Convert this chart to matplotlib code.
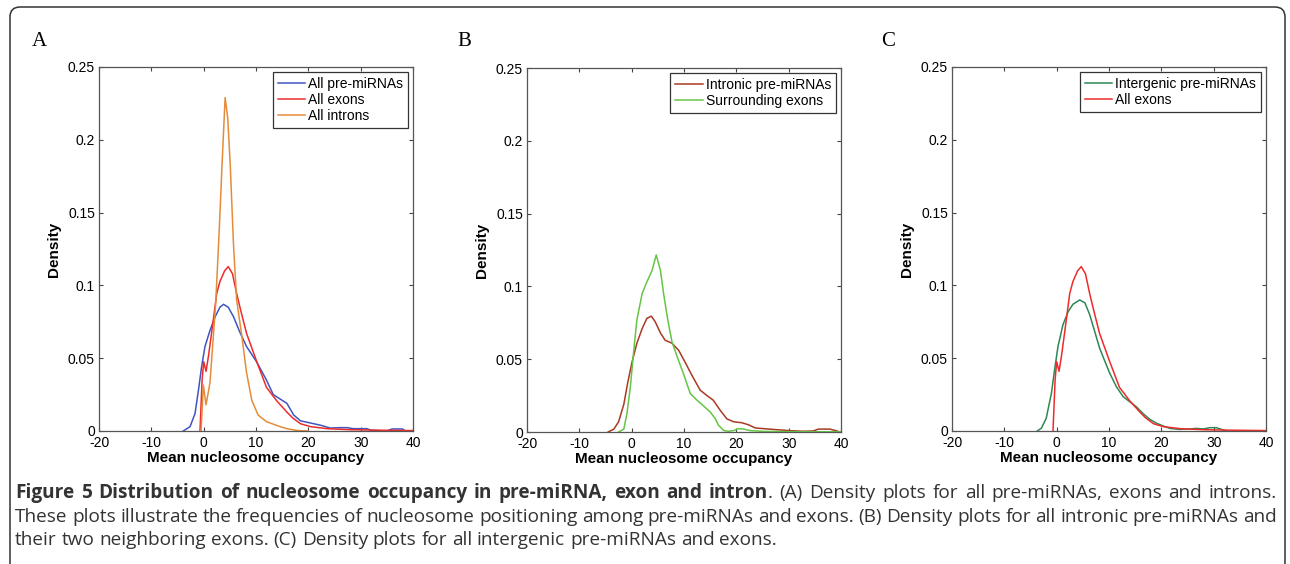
import matplotlib
matplotlib.use('Agg')
import matplotlib.pyplot as plt
from matplotlib.patches import FancyBboxPatch
from matplotlib.transforms import IdentityTransform

W, H = 1290, 564

# Panel A: all pre-miRNAs / exons / introns
PRE_X = [-3.9, -2.6, -1.65, -1, -0.4, 0.25, 1.2, 2.2, 3.1, 3.8, 4.7, 5.7, 6.9, 8.2,
         10.1, 12, 13.3, 14.6, 15.9, 17.2, 18.5, 20.4, 22.3, 24.2, 26, 27.4, 28.6,
         31.2, 32, 35, 36, 38, 38.5]
PRE_Y = [0, 0.003, 0.012, 0.028, 0.044, 0.058, 0.069, 0.0785, 0.085, 0.087, 0.085,
         0.0785, 0.068, 0.058, 0.0476, 0.035, 0.025, 0.022, 0.019, 0.011, 0.007,
         0.0055, 0.004, 0.002, 0.0023, 0.0023, 0.0016, 0.0016, 0.0005, 0, 0.0014,
         0.0014, 0]

EXON_X = [-0.7, -0.3, 0, 0.45, 0.9, 1.5, 2.5, 3.1, 4, 4.7, 5.5, 6.3, 7, 8.2, 10.1,
          12, 13.9, 15.9, 17, 18.5, 20.4, 23.6, 28, 34.4, 40]
EXON_Y = [0, 0.035, 0.0476, 0.041, 0.051, 0.067, 0.0945, 0.1026, 0.110, 0.1129, 0.108,
          0.0945, 0.084, 0.067, 0.048, 0.030, 0.021, 0.013, 0.009, 0.005, 0.003,
          0.0016, 0.0009, 0.0005, 0.0003]

INTRON_X = [-0.5, -0.06, 0.45, 1.2, 1.85, 2.3, 2.6, 3, 3.5, 4.1, 4.6, 5.1, 5.7, 6.3,
            7.3, 8.2, 9.2, 10.4, 12, 14.6, 16, 18, 20]
INTRON_Y = [0, 0.0316, 0.018, 0.033, 0.065, 0.088, 0.110, 0.140, 0.182, 0.229, 0.215,
            0.181, 0.128, 0.090, 0.065, 0.040, 0.021, 0.011, 0.0064, 0.003, 0.0015,
            0.0003, 0]

# Panel B: intronic pre-miRNAs / surrounding exons
INTRONIC_X = [-4.5, -3.4, -2.5, -1.5, -0.8, 0, 1, 2, 2.9, 3.75, 4.5, 5.5, 6.4, 7.7,
              9, 10.2, 11.5, 13.1, 14.4, 15.6, 16.9, 18.2, 19.5, 21, 22.3, 23.6,
              25.2, 27.7, 30.3, 32.8, 34.7, 35.7, 37.9, 39.2, 39.8]
INTRONIC_Y = [0, 0.002, 0.007, 0.019, 0.033, 0.047, 0.061, 0.071, 0.078, 0.0796,
              0.0757, 0.068, 0.063, 0.061, 0.056, 0.048, 0.039, 0.0287, 0.025,
              0.0218, 0.015, 0.009, 0.007, 0.0064, 0.005, 0.0028, 0.0023, 0.0016,
              0.0009, 0.0005, 0.0007, 0.002, 0.002, 0.0007, 0]

SURR_X = [-2.5, -1.5, -0.9, -0.25, 0.4, 1, 2, 2.9, 3.9, 4.7, 5.5, 6.1, 6.9, 7.7,
          8.7, 9.9, 11.2, 12.5, 13.7, 15, 16, 16.6, 17.6, 18.5, 19.5, 20.4, 21.4,
          22.6, 25.2, 31.6, 40]
SURR_Y = [0, 0.002, 0.0126, 0.031, 0.056, 0.077, 0.095, 0.103, 0.111, 0.1216, 0.111,
          0.095, 0.077, 0.062, 0.0516, 0.040, 0.0264, 0.0218, 0.018, 0.0138, 0.009,
          0.0046, 0.001, 0.0005, 0.001, 0.0023, 0.002, 0.001, 0.0004, 0.0002, 0.0001]

# Panel C: intergenic pre-miRNAs (exons reused from panel A)
INTERG_X = [-3.7, -2.9, -2, -1, -0.4, 0.25, 1.2, 2.2, 3.1, 4.4, 5.4, 6.3, 7.3, 8.2,
            9.2, 10.1, 11.4, 12.7, 14, 15.2, 16.5, 17.8, 19.1, 20.4, 21.6, 23.5,
            25.4, 26.7, 28, 29.3, 30.5, 31.5, 32.5]
INTERG_Y = [0, 0.002, 0.0087, 0.026, 0.042, 0.058, 0.073, 0.082, 0.087, 0.090, 0.088,
            0.080, 0.068, 0.057, 0.048, 0.040, 0.0305, 0.0236, 0.020, 0.0167, 0.012,
            0.008, 0.0053, 0.0034, 0.0018, 0.0011, 0.0014, 0.0018, 0.0014, 0.0023,
            0.0023, 0.0011, 0]

X_TICKS = [-20, -10, 0, 10, 20, 30, 40]
Y_TICKS = [0, 0.05, 0.1, 0.15, 0.2, 0.25]

BLUE = '#3F56C0'
RED = '#EE2B2B'
ORANGE = '#E58C3A'
DARKRED = '#A83A22'
GREEN = '#66C447'
DARKGREEN = '#2E8756'

CAPTION = [
    [[('Figure', 'bold')], [('5', 'bold')], [('Distribution', 'bold')], [('of', 'bold')],
     [('nucleosome', 'bold')], [('occupancy', 'bold')], [('in', 'bold')],
     [('pre-miRNA,', 'bold')], [('exon', 'bold')], [('and', 'bold')],
     [('intron', 'bold'), ('.', 'normal')]]
    + [[(w, 'normal')] for w in '(A) Density plots for all pre-miRNAs, exons and introns.'.split()],
    [[(w, 'normal')] for w in ('These plots illustrate the frequencies of nucleosome positioning '
                               'among pre-miRNAs and exons. (B) Density plots for all intronic '
                               'pre-miRNAs and').split()],
    [[(w, 'normal')] for w in ('their two neighboring exons. (C) Density plots for all '
                               'intergenic pre-miRNAs and exons.').split()],
]

plt.rcParams['font.family'] = ['Liberation Sans', 'DejaVu Sans']

fig = plt.figure(figsize=(W / 100, H / 100), dpi=100)
fig.patch.set_facecolor('white')

# rounded frame around the whole figure
frame = FancyBboxPatch((10, -20), 1275, H - 7 + 20, boxstyle='round,pad=0,rounding_size=10',
                       transform=IdentityTransform(), facecolor='none',
                       edgecolor='#333333', lw=1.1)
fig.add_artist(frame)


def px_axes(left, right, top, bottom):
    return fig.add_axes([left / W, (H - bottom) / H, (right - left) / W, (bottom - top) / H])


def style_axes(ax):
    ax.set_xlim(-20, 40)
    ax.set_ylim(0, 0.25)
    ax.set_xticks(X_TICKS)
    ax.set_yticks(Y_TICKS)
    ax.set_xticklabels([str(t) for t in X_TICKS])
    ax.set_yticklabels(['%g' % t for t in Y_TICKS])
    ax.tick_params(direction='in', top=True, right=True, length=3, width=0.8,
                   labelsize=10, color='#444444')
    ax.tick_params(axis='x', pad=3.5)
    ax.tick_params(axis='y', pad=2.9)
    for s in ax.spines.values():
        s.set_color('#555555')
        s.set_linewidth(0.9)
    ax.set_xlabel('Mean nucleosome occupancy', fontsize=11, fontweight='bold', va='center')
    ax.xaxis.set_label_coords(0.5, -27 / 364)
    ax.set_ylabel('Density', fontsize=11, fontweight='bold', va='center')
    ax.yaxis.set_label_coords(-45 / 314, 0.5)


def add_legend(ax):
    leg = ax.legend(loc='upper right', fontsize=10, handlelength=2.0, handletextpad=0.2,
                    labelspacing=0.15, borderpad=0.35, borderaxespad=0.36,
                    fancybox=False, framealpha=1)
    leg.get_frame().set_edgecolor('#333333')
    leg.get_frame().set_linewidth(0.9)


lw = 1.1

ax1 = px_axes(99, 413, 67, 431)
ax1.plot(PRE_X, PRE_Y, color=BLUE, lw=lw, label='All pre-miRNAs')
ax1.plot(EXON_X, EXON_Y, color=RED, lw=lw, label='All exons')
ax1.plot(INTRON_X, INTRON_Y, color=ORANGE, lw=lw, label='All introns')
style_axes(ax1)
add_legend(ax1)

ax2 = px_axes(527, 841, 68, 432)
ax2.plot(INTRONIC_X, INTRONIC_Y, color=DARKRED, lw=lw, label='Intronic pre-miRNAs')
ax2.plot(SURR_X, SURR_Y, color=GREEN, lw=lw, label='Surrounding exons')
style_axes(ax2)
add_legend(ax2)

ax3 = px_axes(952, 1266, 67, 431)
ax3.plot(INTERG_X, INTERG_Y, color=DARKGREEN, lw=lw, label='Intergenic pre-miRNAs')
ax3.plot(EXON_X, EXON_Y, color=RED, lw=lw, label='All exons')
style_axes(ax3)
add_legend(ax3)

# panel letters
for x, letter in [(32, 'A'), (457, 'B'), (881, 'C')]:
    fig.text(x / W, (H - 46) / H, letter, fontsize=15, family='Liberation Serif',
             ha='left', va='baseline')

# caption, justified like the journal layout
renderer = fig.canvas.get_renderer()
CAP_FONT = 'Open Sans'
CAP_X0, CAP_X1 = 15, 1277
CAP_BASE = [498, 522, 545]


def word_width(word, size):
    total = 0
    for txt, weight in word:
        t = fig.text(0, 0, txt, fontsize=size, family=CAP_FONT, fontweight=weight)
        total += t.get_window_extent(renderer).width
        t.remove()
    return total


def space_width(size):
    a = fig.text(0, 0, 'x x', fontsize=size, family=CAP_FONT)
    b = fig.text(0, 0, 'xx', fontsize=size, family=CAP_FONT)
    w = a.get_window_extent(renderer).width - b.get_window_extent(renderer).width
    a.remove()
    b.remove()
    return w


# fit the font size so the first two lines fill the column width
size = 12
sp = space_width(size)
need = 0
for line in CAPTION[:2]:
    nat = sum(word_width(w, size) for w in line) + sp * (len(line) - 1)
    need = max(need, nat)
size = size * (CAP_X1 - CAP_X0) / need
sp = space_width(size)

for i, line in enumerate(CAPTION):
    widths = [word_width(w, size) for w in line]
    if i < 2:
        gap = (CAP_X1 - CAP_X0 - sum(widths)) / (len(line) - 1)
    else:
        gap = sp
    x = CAP_X0
    y = (H - CAP_BASE[i]) / H
    for word, ww in zip(line, widths):
        xx = x
        for txt, weight in word:
            t = fig.text(xx / W, y, txt, fontsize=size, family=CAP_FONT,
                         fontweight=weight, color='#333333', ha='left', va='baseline')
            xx += t.get_window_extent(renderer).width
        x += ww + gap

fig.savefig('out.png', dpi=100, facecolor='white')
